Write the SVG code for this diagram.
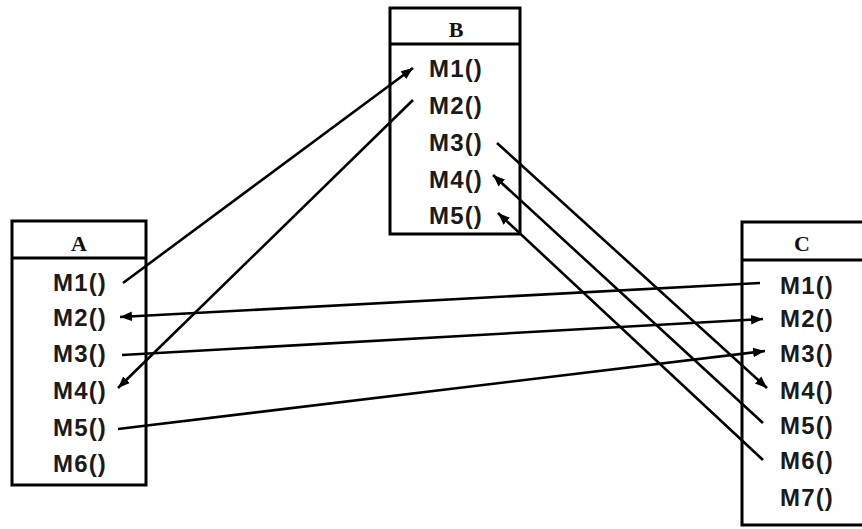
<svg xmlns="http://www.w3.org/2000/svg" width="862" height="529" viewBox="0 0 862 529">
  <defs>
    <marker id="arrow" viewBox="0 0 10 10" refX="10" refY="5" markerWidth="4.6" markerHeight="4.6" markerUnits="strokeWidth" orient="auto">
      <path d="M0,1 L10,5 L0,9 Z" fill="#000"/>
    </marker>
    <style>
      .box { fill: #fff; stroke: #000; stroke-width: 3; }
      .div { stroke: #000; stroke-width: 3; }
      .title { font-family: "Liberation Serif", "Times New Roman", serif; font-weight: bold; font-size: 22px; text-anchor: middle; fill: #111; }
      .m { font-family: "Liberation Sans", Arial, sans-serif; font-weight: bold; font-size: 24px; text-anchor: middle; fill: #1a1a1a; letter-spacing: 1.2px; }
      .edge { fill: none; stroke: #000; stroke-width: 2.6; }
      .arr { marker-end: url(#arrow); }
    </style>
  </defs>
  <rect width="862" height="529" fill="#fff"/>

  <g id="B">
    <rect class="box" x="390" y="8" width="130" height="226"/>
    <line class="div" x1="390" y1="44" x2="520" y2="44"/>
    <text class="title" x="456" y="37">B</text>
    <text class="m" x="456" y="77">M1()</text>
    <text class="m" x="456" y="114">M2()</text>
    <text class="m" x="456" y="151">M3()</text>
    <text class="m" x="456" y="188">M4()</text>
    <text class="m" x="456" y="224">M5()</text>
  </g>

  <g id="A">
    <rect class="box" x="12" y="221" width="134" height="264"/>
    <line class="div" x1="12" y1="258" x2="146" y2="258"/>
    <text class="title" x="79" y="251">A</text>
    <text class="m" x="80" y="291">M1()</text>
    <text class="m" x="80" y="326">M2()</text>
    <text class="m" x="80" y="362">M3()</text>
    <text class="m" x="80" y="399">M4()</text>
    <text class="m" x="80" y="436">M5()</text>
    <text class="m" x="80" y="472">M6()</text>
  </g>

  <g id="C">
    <rect class="box" x="742" y="222" width="130" height="303"/>
    <line class="div" x1="742" y1="260" x2="872" y2="260"/>
    <text class="title" x="802" y="251">C</text>
    <text class="m" x="807" y="294">M1()</text>
    <text class="m" x="807" y="327">M2()</text>
    <text class="m" x="807" y="362">M3()</text>
    <text class="m" x="807" y="399">M4()</text>
    <text class="m" x="807" y="434">M5()</text>
    <text class="m" x="807" y="469">M6()</text>
    <text class="m" x="807" y="506">M7()</text>
  </g>

  <g id="connectors">
    <line class="edge arr" x1="123" y1="283" x2="413" y2="68"/>
    <line class="edge arr" x1="413" y1="100" x2="118" y2="388"/>
    <line class="edge arr" x1="760" y1="283" x2="120" y2="317"/>
    <line class="edge arr" x1="122" y1="355" x2="763" y2="319"/>
    <line class="edge arr" x1="118" y1="429" x2="765" y2="351"/>
    <line class="edge arr" x1="497" y1="143" x2="767" y2="388"/>
    <line class="edge arr" x1="763" y1="423" x2="493" y2="175"/>
    <line class="edge arr" x1="763" y1="460" x2="498" y2="213"/>
  </g>
</svg>
